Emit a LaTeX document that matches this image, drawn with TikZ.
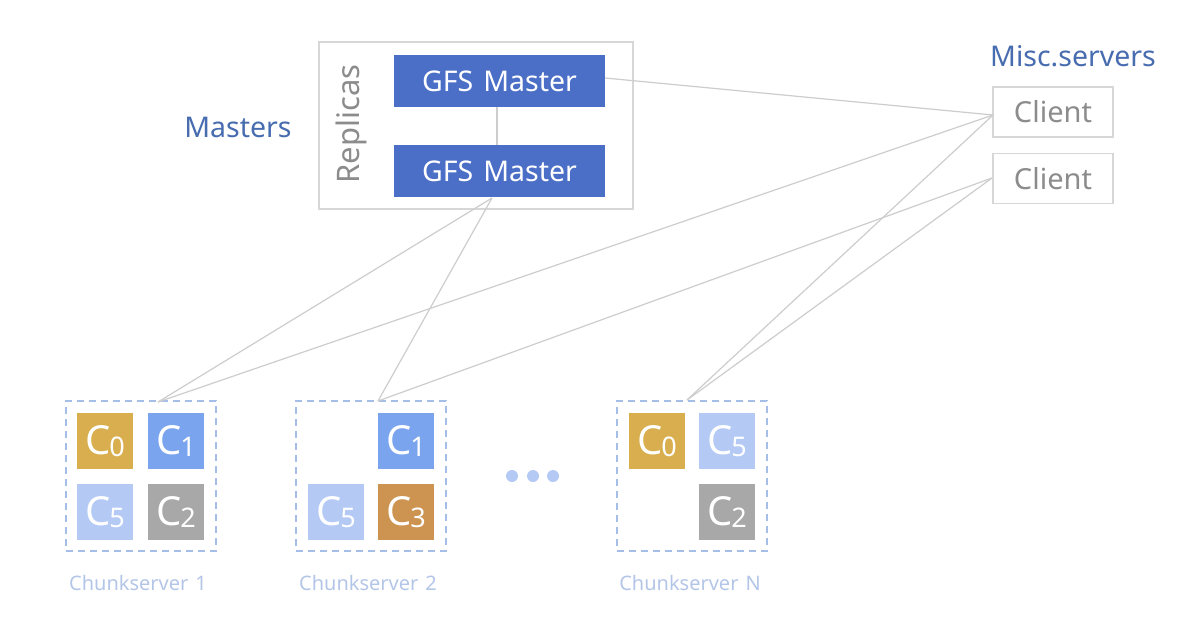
\documentclass[tikz,border=0pt]{standalone}
\usepackage{fontspec}
\setmainfont{Noto Sans}
\definecolor{mblue}{RGB}{75,110,198}
\definecolor{tblue}{RGB}{72,108,176}
\definecolor{lgray}{RGB}{215,215,215}
\definecolor{tgray}{RGB}{140,140,140}
\definecolor{lnk}{RGB}{205,205,205}
\definecolor{dashc}{RGB}{165,190,232}
\definecolor{cszero}{RGB}{216,174,78}
\definecolor{csone}{RGB}{122,164,238}
\definecolor{csfive}{RGB}{180,202,245}
\definecolor{cstwo}{RGB}{168,168,168}
\definecolor{csthree}{RGB}{204,148,80}
\definecolor{labc}{RGB}{180,198,232}
\newcommand{\chk}[1]{{\fontsize{40}{40}\selectfont C}\kern-1pt\raisebox{-2pt}{\fontsize{27}{27}\selectfont #1}}
\begin{document}
\begin{tikzpicture}[x=1pt,y=-1pt,
  master/.style={fill=mblue,text=white,minimum width=211pt,minimum height=52pt,inner sep=0pt,font=\fontsize{28.5}{28}\selectfont},
  client/.style={draw=lgray,line width=1.2pt,text=tgray,minimum width=120pt,minimum height=50pt,inner sep=0pt,font=\fontsize{29}{29}\selectfont},
  chunkbox/.style={draw=dashc,dashed,dash pattern=on 7pt off 5pt,line width=1.6pt,minimum width=150pt,minimum height=150pt,inner sep=0pt},
  chip/.style={minimum width=56pt,minimum height=56pt,inner sep=0pt,text=white},
  link/.style={draw=lnk,line width=1.2pt},
  cslabel/.style={text=labc,font=\fontsize{20}{20}\selectfont},
  grouplabel/.style={text=tblue,font=\fontsize{28.5}{28}\selectfont}
]
\useasboundingbox[fill=white] (0,0) rectangle (1202,638);
% replicas group
\node[draw=lgray,line width=1.2pt,minimum width=314pt,minimum height=167pt,inner sep=0pt] (rep) at (476,125.5) {};
\node[rotate=90,text=tgray,font=\fontsize{31}{31}\selectfont] (replab) at (351,124) {Replicas};
\node[master] (m1) at (499.5,81) {GFS\hspace{0.35em}Master};
\node[master] (m2) at (499.5,171) {GFS\hspace{0.35em}Master};
\node[grouplabel] (mlab) at (238,127) {Masters};
\node[grouplabel] (misc) at (1073,56) {Misc.servers};
\node[client] (c1) at (1053,112) {Client};
\node[client] (c2) at (1053,178.5) {Client};
% chunkservers
\node[chunkbox] (s1) at (141,476) {};
\node[chunkbox] (s2) at (371,476) {};
\node[chunkbox] (sn) at (692,476) {};
\node[chip,fill=cszero] (a0) at (105,441) {\chk{0}};
\node[chip,fill=csone] (a1) at (176,441) {\chk{1}};
\node[chip,fill=csfive] (a5) at (105,512) {\chk{5}};
\node[chip,fill=cstwo] (a2) at (176,512) {\chk{2}};
\node[chip,fill=csone] (b1) at (406,441) {\chk{1}};
\node[chip,fill=csfive] (b5) at (336,512) {\chk{5}};
\node[chip,fill=csthree] (b3) at (406,512) {\chk{3}};
\node[chip,fill=cszero] (n0) at (657,441) {\chk{0}};
\node[chip,fill=csfive] (n5) at (727,441) {\chk{5}};
\node[chip,fill=cstwo] (n2) at (727,512) {\chk{2}};
\node[cslabel] (l1) at (138,583) {Chunkserver\hspace{0.35em}1};
\node[cslabel] (l2) at (368,583) {Chunkserver\hspace{0.35em}2};
\node[cslabel] (ln) at (690,583) {Chunkserver\hspace{0.35em}N};
% dots
\foreach \i/\x in {1/512,2/533,3/553}{\node[circle,fill=csfive,minimum size=12pt,inner sep=0pt] (dot\i) at (\x,476) {};}
% anchor points
\coordinate (pc1) at (993,115);
\coordinate (pc2) at (992,178);
\coordinate (pm2) at (492,198);
\coordinate (pm1) at (605,78);
\coordinate (p1) at (158,402);
\coordinate (p2) at (378,401);
\coordinate (pn) at (687,400);
% links
\draw[link] (m1.south -| 497,0) -- (m2.north -| 497,0);
\draw[link] (pm1) -- (pc1);
\draw[link] (pm2) -- (p1);
\draw[link] (pm2) -- (p2);
\draw[link] (pc1) -- (p1);
\draw[link] (pc2) -- (p2);
\draw[link] (pc1) -- (pn);
\draw[link] (pc2) -- (pn);
\end{tikzpicture}
\end{document}
